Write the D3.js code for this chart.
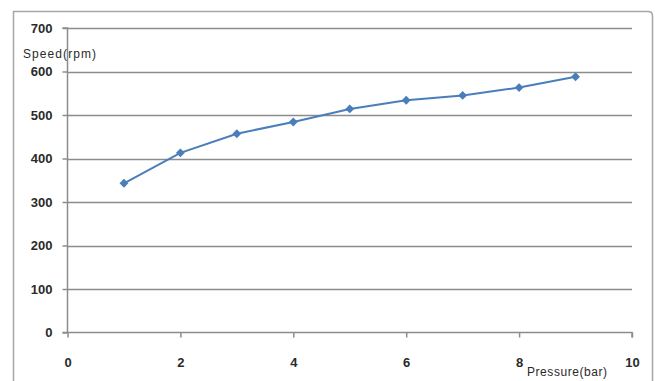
<!DOCTYPE html>
<html><head><meta charset="utf-8">
<script src="https://cdn.jsdelivr.net/npm/d3@7"></script>
<style>body{margin:0;background:#fff}svg{display:block}</style>
</head><body>
<svg id="c" width="655" height="381"></svg>
<script>
const pressure = [1, 2, 3, 4, 5, 6, 7, 8, 9];
const speed = [343, 413, 457, 484, 514, 534, 545, 563, 588];
const xTicks = [0, 2, 4, 6, 8, 10];
const yTicks = [0, 100, 200, 300, 400, 500, 600, 700];
const xTitle = "Pressure(bar)";
const yTitle = "Speed(rpm)";

(function () {
const svg = d3.select("#c");
const font = "'Liberation Sans', Arial, sans-serif";
const pL = 67.5, pR = 632, pT = 28, pB = 332.5;
const x = d3.scaleLinear().domain([0, 10]).range([pL, pR]);
const y = d3.scaleLinear().domain([0, 700]).range([pB, pT]);

// outer chart border
svg.append("path")
  .attr("d", `M13.5,390 V11.5 H648 Q652.5,11.5 652.5,16 V390`)
  .attr("fill", "none").attr("stroke", "#a6a6a6").attr("stroke-width", 1.5);

// gridlines
svg.append("g").selectAll("line").data(yTicks.slice(1)).join("line")
  .attr("x1", pL).attr("x2", pR)
  .attr("y1", d => Math.round(y(d)) + 0.5).attr("y2", d => Math.round(y(d)) + 0.5)
  .attr("stroke", "#8c8c8c").attr("stroke-width", 1.5);

// y axis
const ya = svg.append("g").attr("transform", `translate(${pL},0)`)
  .call(d3.axisLeft(y).tickValues(yTicks).tickSize(5).tickPadding(10).tickFormat(d3.format("d")));
ya.select(".domain").attr("stroke", "#8c8c8c").attr("stroke-width", 1.5).attr("d", `M-5,${pB}H0V${pT}H-5`);
ya.selectAll(".tick line").attr("stroke", "#8c8c8c").attr("stroke-width", 1.5);
ya.selectAll("text").attr("font-family", font).attr("font-size", 13).attr("font-weight", "bold").attr("fill", "#2a2a2a");

// x axis
const xa = svg.append("g").attr("transform", `translate(0,${pB})`)
  .call(d3.axisBottom(x).tickValues(xTicks).tickSize(5).tickPadding(20).tickFormat(d3.format("d")));
xa.select(".domain").attr("stroke", "#8c8c8c").attr("stroke-width", 1.5).attr("d", `M${pL},0H${pR}V5`);
xa.selectAll(".tick line").attr("stroke", "#8c8c8c").attr("stroke-width", 1.5);
xa.selectAll("text").attr("font-family", font).attr("font-size", 13).attr("font-weight", "bold").attr("fill", "#2a2a2a");

// axis titles
svg.append("text").attr("x", 23).attr("y", 58).text(yTitle)
  .attr("font-family", font).attr("font-size", 12).attr("textLength", 73).attr("fill", "#2a2a2a");
svg.append("text").attr("x", 527).attr("y", 376).text(xTitle)
  .attr("font-family", font).attr("font-size", 12).attr("textLength", 80).attr("fill", "#2a2a2a");

// line
const data = pressure.map((p, i) => [p, speed[i]]);
svg.append("path").datum(data)
  .attr("d", d3.line().x(d => x(d[0])).y(d => y(d[1])))
  .attr("fill", "none").attr("stroke", "#4a7ebb").attr("stroke-width", 2);

// markers
svg.append("g").selectAll("path").data(data).join("path")
  .attr("transform", d => `translate(${x(d[0])},${y(d[1])})`)
  .attr("d", d3.symbol(d3.symbolDiamond2, 50)())
  .attr("fill", "#4a7ebb");
})();
</script>
</body></html>
